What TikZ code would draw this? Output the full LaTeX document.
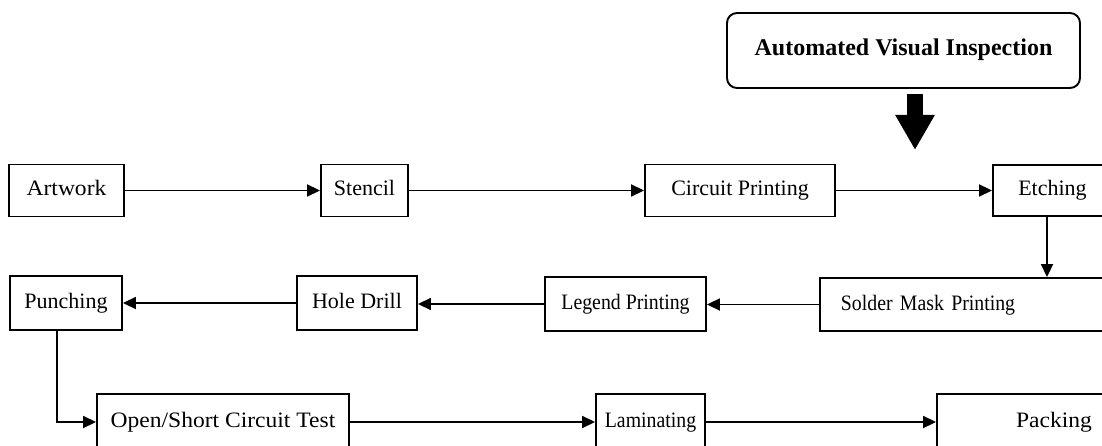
\documentclass[tikz,border=0pt]{standalone}
\usepackage{fontspec}
\setmainfont{Liberation Serif}
\newfontfamily\narrowserif[FakeStretch=0.9]{Liberation Serif}
\newfontfamily\wideserif[FakeStretch=1.07]{Liberation Serif}
\usetikzlibrary{arrows.meta}
\begin{document}
\begin{tikzpicture}[x=1pt,y=-1pt,
  box/.style={draw, line width=1.9pt, rectangle, inner sep=0pt, text height=15pt, text depth=4pt,
              font=\fontsize{22}{26}\selectfont},
  narrowtext/.style={font=\fontsize{22}{26}\narrowserif},
  widetext/.style={font=\fontsize{22}{26}\wideserif},
  link/.style={line width=1.8pt, -{Triangle[length=13pt,width=12pt]}},
  bigarrow/.style={line width=16pt, -{Triangle[length=35pt,width=37pt]}},
]
\useasboundingbox (0,0) rectangle (1102,446);
\clip (0,0) rectangle (1102,446);
% row 1
\node[box, widetext, minimum width=115, minimum height=52] (art) at (66.5,190.5) {Artwork};
\node[box, minimum width=87, minimum height=52] (sten) at (364.5,190.5) {Stencil};
\node[box, minimum width=190, minimum height=52] (circ) at (740,190.5) {Circuit Printing};
\node[box, minimum width=119, minimum height=51] (etch) at (1052.5,190.5) {Etching};
% inspection
\node[box, rounded corners=10pt, minimum width=353, minimum height=75,
      font=\fontsize{24}{28}\selectfont\bfseries] (avi) at (903.5,50.5) {Automated Visual Inspection};
\coordinate (avitip) at (915,150);
% row 2
\node[box, minimum width=112, minimum height=54] (punch) at (66,303) {Punching};
\node[box, minimum width=120, minimum height=54] (hole) at (357,303) {Hole Drill};
\node[box, narrowtext, minimum width=161, minimum height=54] (legend) at (625.5,304) {Legend Printing};
\node[box, narrowtext, anchor=west, inner xsep=21pt, text width=260pt, align=left, minimum height=53] (solder) at (819,304.5) {Solder Mask Printing};
% row 3
\node[box, widetext, minimum width=252, minimum height=56] (open) at (223,422) {Open/Short Circuit Test};
\node[box, narrowtext, minimum width=109, minimum height=56] (lam) at (650.5,422) {Laminating};
\node[box, widetext, minimum width=234, minimum height=56] (pack) at (1054,422) {Packing};
% connectors
\draw[link] (art) -- (sten);
\draw[link] (sten) -- (circ);
\draw[link] (circ) -- (etch);
\draw[bigarrow, shorten <=5pt] ([xshift=11.5pt]avi.south) -- (avitip);
\draw[link] ([xshift=-5.5pt]etch.south) -- ([xshift=-5.5pt]etch.south |- solder.north);
\draw[link] (solder.west) -- (legend.east |- solder.west);
\draw[link] (legend.west) -- (hole.east |- legend.west);
\draw[link] (hole) -- (punch);
\draw[link] ([xshift=-9pt]punch.south) |- (open.west);
\draw[link] (open) -- (lam);
\draw[link] (lam) -- (pack);
\end{tikzpicture}
\end{document}
